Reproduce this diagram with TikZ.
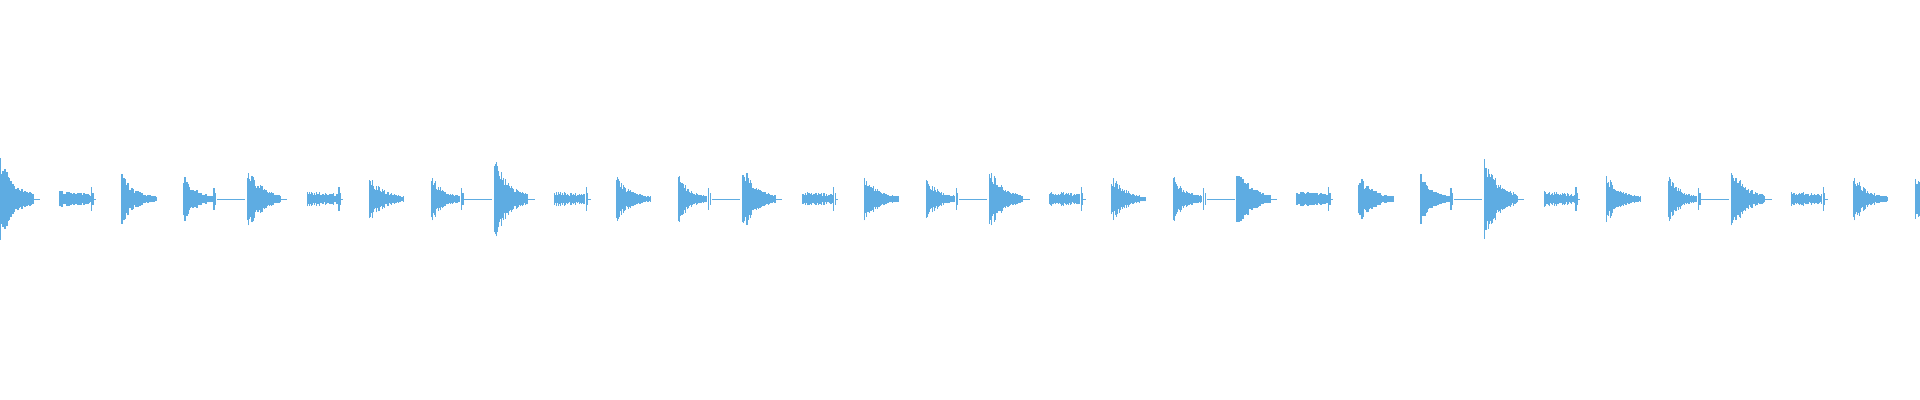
\documentclass[tikz,border=0pt]{standalone}
\definecolor{wave}{RGB}{94,172,226}
\newcommand\wvA[2]{\foreach \t in {0,1,...,33}{\pgfmathsetmacro\a{#2*exp(-\t/15)*(0.55+0.45*rnd)+0.8}\draw (#1+\t,201-\a) -- (#1+\t,201+\a);}
 \draw[thin line] (#1+33,201) -- (#1+40,201);}
\newcommand\wvB[1]{\foreach \t in {0,1,...,30}{\pgfmathsetmacro\a{(4+4*rnd)*(1-\t/90)}\draw (#1+\t,201-\a) -- (#1+\t,201+\a);}
 \draw (#1+31.5,189) -- (#1+31.5,213); \draw (#1+33,195) -- (#1+33,207); \draw[thin line] (#1+33,201) -- (#1+36,201);}
\newcommand\wvC[1]{\foreach \t in {0,1,...,34}{\pgfmathsetmacro\a{25*exp(-\t/13)*(0.5+0.5*rnd)+1}\draw (#1+\t,201-\a) -- (#1+\t,201+\a);}}
\newcommand\wvD[1]{\foreach \t in {0,1,...,28}{\pgfmathsetmacro\a{24*exp(-\t/11)*(0.5+0.5*rnd)+1.5}\draw (#1+\t,201-\a) -- (#1+\t,201+\a);}
 \draw (#1+30,190) -- (#1+30,212); \draw (#1+31.5,195) -- (#1+31.5,207); \draw[thin line] (#1+33,201) -- (#1+61,201);}
\begin{document}
\begin{tikzpicture}[x=0.5pt,y=0.5pt]
\tikzset{thin line/.style={line width=0.4pt}}
\useasboundingbox (0,0) rectangle (1920,400);
\clip (0,0) rectangle (1920,400);
\pgfmathsetseed{7}
\begin{scope}[every path/.style={draw=wave,line width=0.6pt}]
\foreach \k/\m in {0/43,1/34,2/43,3/35,4/32,5/32,6/43,7/34}{
 \pgfmathsetmacro\xo{247.4*\k}
 \wvA{\xo}{\m}
 \wvB{\xo+60}
 \wvC{\xo+122}
 \wvD{\xo+184}
}
\end{scope}
\end{tikzpicture}
\end{document}
